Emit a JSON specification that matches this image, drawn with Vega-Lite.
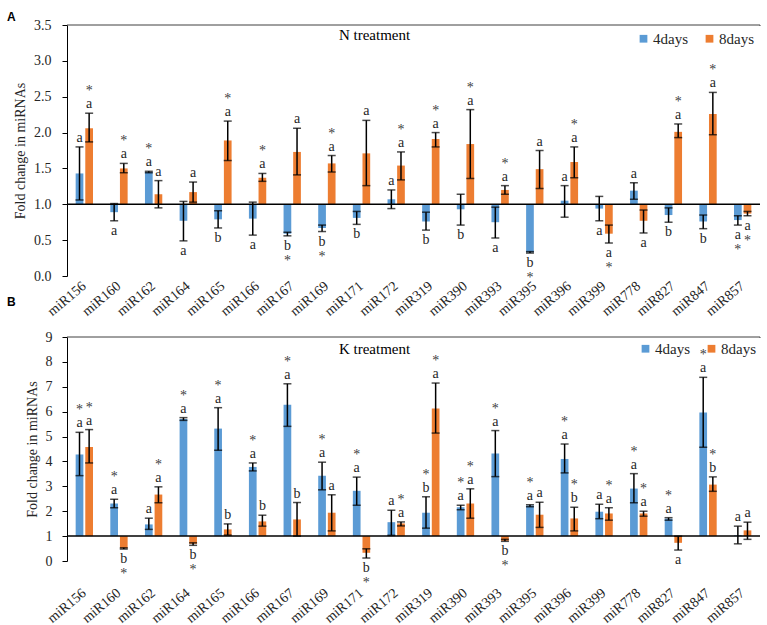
{
  "$schema": "https://vega.github.io/schema/vega-lite/v6.json",
  "padding": {"left": 7, "top": 11, "right": 0, "bottom": 0},
  "background": "white",
  "config": {
    "view": {"stroke": null},
    "font": "Liberation Serif, Times New Roman, serif",
    "axis": {"labelFont": "Liberation Serif, Times New Roman, serif", "titleFont": "Liberation Serif, Times New Roman, serif", "labelColor": "#262626", "titleColor": "#262626", "grid": false},
    "legend": {"labelFont": "Liberation Serif, Times New Roman, serif"},
    "text": {"font": "Liberation Serif, Times New Roman, serif"}
  },
  "bounds": "flush",
  "spacing": 61,
  "resolve": {"scale": {"y": "independent", "color": "independent"}, "legend": {"color": "independent"}},
  "datasets": {
    "N": [
      {"mirna": "miR156", "day": "4days", "value": 1.43, "lo": 1.06, "hi": 1.80, "letter": "a", "sig": ""},
      {"mirna": "miR156", "day": "8days", "value": 2.06, "lo": 1.87, "hi": 2.27, "letter": "a", "sig": "*"},
      {"mirna": "miR160", "day": "4days", "value": 0.89, "lo": 0.77, "hi": 1.01, "letter": "a", "sig": ""},
      {"mirna": "miR160", "day": "8days", "value": 1.50, "lo": 1.44, "hi": 1.57, "letter": "a", "sig": "*"},
      {"mirna": "miR162", "day": "4days", "value": 1.45, "lo": 1.44, "hi": 1.46, "letter": "a", "sig": "*"},
      {"mirna": "miR162", "day": "8days", "value": 1.14, "lo": 0.95, "hi": 1.33, "letter": "a", "sig": ""},
      {"mirna": "miR164", "day": "4days", "value": 0.77, "lo": 0.49, "hi": 1.04, "letter": "a", "sig": ""},
      {"mirna": "miR164", "day": "8days", "value": 1.17, "lo": 1.03, "hi": 1.31, "letter": "a", "sig": ""},
      {"mirna": "miR165", "day": "4days", "value": 0.79, "lo": 0.67, "hi": 0.91, "letter": "b", "sig": ""},
      {"mirna": "miR165", "day": "8days", "value": 1.89, "lo": 1.61, "hi": 2.16, "letter": "a", "sig": "*"},
      {"mirna": "miR166", "day": "4days", "value": 0.80, "lo": 0.57, "hi": 1.03, "letter": "a", "sig": ""},
      {"mirna": "miR166", "day": "8days", "value": 1.37, "lo": 1.32, "hi": 1.43, "letter": "a", "sig": "*"},
      {"mirna": "miR167", "day": "4days", "value": 0.59, "lo": 0.56, "hi": 0.61, "letter": "b", "sig": "*"},
      {"mirna": "miR167", "day": "8days", "value": 1.73, "lo": 1.41, "hi": 2.06, "letter": "a", "sig": ""},
      {"mirna": "miR169", "day": "4days", "value": 0.67, "lo": 0.62, "hi": 0.71, "letter": "b", "sig": "*"},
      {"mirna": "miR169", "day": "8days", "value": 1.57, "lo": 1.45, "hi": 1.68, "letter": "a", "sig": "*"},
      {"mirna": "miR171", "day": "4days", "value": 0.81, "lo": 0.72, "hi": 0.90, "letter": "b", "sig": ""},
      {"mirna": "miR171", "day": "8days", "value": 1.71, "lo": 1.26, "hi": 2.17, "letter": "a", "sig": ""},
      {"mirna": "miR172", "day": "4days", "value": 1.07, "lo": 0.94, "hi": 1.20, "letter": "a", "sig": ""},
      {"mirna": "miR172", "day": "8days", "value": 1.54, "lo": 1.34, "hi": 1.73, "letter": "a", "sig": "*"},
      {"mirna": "miR319", "day": "4days", "value": 0.76, "lo": 0.64, "hi": 0.89, "letter": "b", "sig": ""},
      {"mirna": "miR319", "day": "8days", "value": 1.91, "lo": 1.80, "hi": 2.00, "letter": "a", "sig": "*"},
      {"mirna": "miR390", "day": "4days", "value": 0.93, "lo": 0.71, "hi": 1.14, "letter": "b", "sig": ""},
      {"mirna": "miR390", "day": "8days", "value": 1.84, "lo": 1.36, "hi": 2.32, "letter": "a", "sig": "*"},
      {"mirna": "miR393", "day": "4days", "value": 0.75, "lo": 0.53, "hi": 0.96, "letter": "a", "sig": ""},
      {"mirna": "miR393", "day": "8days", "value": 1.20, "lo": 1.14, "hi": 1.26, "letter": "a", "sig": "*"},
      {"mirna": "miR395", "day": "4days", "value": 0.33, "lo": 0.32, "hi": 0.34, "letter": "b", "sig": "*"},
      {"mirna": "miR395", "day": "8days", "value": 1.49, "lo": 1.22, "hi": 1.75, "letter": "a", "sig": ""},
      {"mirna": "miR396", "day": "4days", "value": 1.05, "lo": 0.82, "hi": 1.26, "letter": "a", "sig": ""},
      {"mirna": "miR396", "day": "8days", "value": 1.59, "lo": 1.37, "hi": 1.80, "letter": "a", "sig": "*"},
      {"mirna": "miR399", "day": "4days", "value": 0.94, "lo": 0.77, "hi": 1.11, "letter": "a", "sig": ""},
      {"mirna": "miR399", "day": "8days", "value": 0.59, "lo": 0.46, "hi": 0.71, "letter": "a", "sig": "*"},
      {"mirna": "miR778", "day": "4days", "value": 1.19, "lo": 1.07, "hi": 1.30, "letter": "a", "sig": ""},
      {"mirna": "miR778", "day": "8days", "value": 0.77, "lo": 0.60, "hi": 0.92, "letter": "a", "sig": ""},
      {"mirna": "miR827", "day": "4days", "value": 0.85, "lo": 0.75, "hi": 0.95, "letter": "b", "sig": ""},
      {"mirna": "miR827", "day": "8days", "value": 2.01, "lo": 1.93, "hi": 2.12, "letter": "a", "sig": "*"},
      {"mirna": "miR847", "day": "4days", "value": 0.76, "lo": 0.66, "hi": 0.85, "letter": "b", "sig": ""},
      {"mirna": "miR847", "day": "8days", "value": 2.26, "lo": 1.97, "hi": 2.56, "letter": "a", "sig": "*"},
      {"mirna": "miR857", "day": "4days", "value": 0.78, "lo": 0.71, "hi": 0.84, "letter": "a", "sig": "*"},
      {"mirna": "miR857", "day": "8days", "value": 0.87, "lo": 0.84, "hi": 0.90, "letter": "a", "sig": "*"}
    ],
    "K": [
      {"mirna": "miR156", "day": "4days", "value": 4.28, "lo": 3.43, "hi": 5.17, "letter": "a", "sig": "*"},
      {"mirna": "miR156", "day": "8days", "value": 4.58, "lo": 3.94, "hi": 5.28, "letter": "a", "sig": "*"},
      {"mirna": "miR160", "day": "4days", "value": 2.31, "lo": 2.14, "hi": 2.48, "letter": "a", "sig": "*"},
      {"mirna": "miR160", "day": "8days", "value": 0.51, "lo": 0.48, "hi": 0.53, "letter": "b", "sig": "*"},
      {"mirna": "miR162", "day": "4days", "value": 1.47, "lo": 1.27, "hi": 1.72, "letter": "a", "sig": ""},
      {"mirna": "miR162", "day": "8days", "value": 2.67, "lo": 2.34, "hi": 2.98, "letter": "a", "sig": "*"},
      {"mirna": "miR164", "day": "4days", "value": 5.71, "lo": 5.65, "hi": 5.76, "letter": "a", "sig": "*"},
      {"mirna": "miR164", "day": "8days", "value": 0.69, "lo": 0.63, "hi": 0.73, "letter": "b", "sig": "*"},
      {"mirna": "miR165", "day": "4days", "value": 5.32, "lo": 4.45, "hi": 6.16, "letter": "a", "sig": "*"},
      {"mirna": "miR165", "day": "8days", "value": 1.27, "lo": 1.04, "hi": 1.49, "letter": "b", "sig": ""},
      {"mirna": "miR166", "day": "4days", "value": 3.78, "lo": 3.62, "hi": 3.94, "letter": "a", "sig": "*"},
      {"mirna": "miR166", "day": "8days", "value": 1.59, "lo": 1.40, "hi": 1.84, "letter": "b", "sig": ""},
      {"mirna": "miR167", "day": "4days", "value": 6.28, "lo": 5.41, "hi": 7.12, "letter": "a", "sig": "*"},
      {"mirna": "miR167", "day": "8days", "value": 1.67, "lo": 1.00, "hi": 2.35, "letter": "b", "sig": ""},
      {"mirna": "miR169", "day": "4days", "value": 3.43, "lo": 2.86, "hi": 3.97, "letter": "a", "sig": "*"},
      {"mirna": "miR169", "day": "8days", "value": 1.94, "lo": 1.21, "hi": 2.66, "letter": "a", "sig": ""},
      {"mirna": "miR171", "day": "4days", "value": 2.82, "lo": 2.24, "hi": 3.37, "letter": "a", "sig": "*"},
      {"mirna": "miR171", "day": "8days", "value": 0.33, "lo": 0.12, "hi": 0.49, "letter": "b", "sig": "*"},
      {"mirna": "miR172", "day": "4days", "value": 1.56, "lo": 1.03, "hi": 2.04, "letter": "a", "sig": ""},
      {"mirna": "miR172", "day": "8days", "value": 1.51, "lo": 1.41, "hi": 1.57, "letter": "a", "sig": "*"},
      {"mirna": "miR319", "day": "4days", "value": 1.94, "lo": 1.32, "hi": 2.58, "letter": "b", "sig": "*"},
      {"mirna": "miR319", "day": "8days", "value": 6.13, "lo": 5.14, "hi": 7.15, "letter": "a", "sig": "*"},
      {"mirna": "miR390", "day": "4days", "value": 2.16, "lo": 2.06, "hi": 2.24, "letter": "a", "sig": "*"},
      {"mirna": "miR390", "day": "8days", "value": 2.31, "lo": 1.72, "hi": 2.90, "letter": "a", "sig": "*"},
      {"mirna": "miR393", "day": "4days", "value": 4.32, "lo": 3.39, "hi": 5.24, "letter": "a", "sig": "*"},
      {"mirna": "miR393", "day": "8days", "value": 0.81, "lo": 0.79, "hi": 0.87, "letter": "b", "sig": "*"},
      {"mirna": "miR395", "day": "4days", "value": 2.23, "lo": 2.18, "hi": 2.26, "letter": "a", "sig": "*"},
      {"mirna": "miR395", "day": "8days", "value": 1.86, "lo": 1.35, "hi": 2.36, "letter": "a", "sig": ""},
      {"mirna": "miR396", "day": "4days", "value": 4.10, "lo": 3.54, "hi": 4.70, "letter": "a", "sig": "*"},
      {"mirna": "miR396", "day": "8days", "value": 1.71, "lo": 1.21, "hi": 2.16, "letter": "b", "sig": "*"},
      {"mirna": "miR399", "day": "4days", "value": 1.98, "lo": 1.70, "hi": 2.28, "letter": "a", "sig": ""},
      {"mirna": "miR399", "day": "8days", "value": 1.91, "lo": 1.64, "hi": 2.14, "letter": "a", "sig": "*"},
      {"mirna": "miR778", "day": "4days", "value": 2.91, "lo": 2.34, "hi": 3.51, "letter": "a", "sig": "*"},
      {"mirna": "miR778", "day": "8days", "value": 1.91, "lo": 1.80, "hi": 2.00, "letter": "a", "sig": "*"},
      {"mirna": "miR827", "day": "4days", "value": 1.70, "lo": 1.64, "hi": 1.74, "letter": "a", "sig": "*"},
      {"mirna": "miR827", "day": "8days", "value": 0.73, "lo": 0.44, "hi": 1.00, "letter": "a", "sig": ""},
      {"mirna": "miR847", "day": "4days", "value": 5.97, "lo": 4.57, "hi": 7.38, "letter": "a", "sig": "*"},
      {"mirna": "miR847", "day": "8days", "value": 3.07, "lo": 2.80, "hi": 3.38, "letter": "b", "sig": "*"},
      {"mirna": "miR857", "day": "4days", "value": 1.03, "lo": 0.69, "hi": 1.40, "letter": "a", "sig": ""},
      {"mirna": "miR857", "day": "8days", "value": 1.23, "lo": 0.87, "hi": 1.56, "letter": "a", "sig": ""}
    ]
  },
  "vconcat": [
    {
      "width": 693,
      "height": 251,
      "title": {"text": "A", "anchor": "start", "frame": "group", "dx": -60, "offset": -6, "font": "Liberation Sans, Arial, sans-serif", "fontWeight": "bold", "fontSize": 12, "color": "black"},
      "data": {"name": "N"},
      "resolve": {"axis": {"y": "independent"}},
      "encoding": {
        "x": {"field": "mirna", "type": "nominal", "sort": null, "title": null,
              "scale": {"paddingInner": 0.5, "paddingOuter": 0.25},
              "axis": {"labelAngle": -40, "labelAlign": "right", "labelBaseline": "middle", "labelPadding": 8, "labelFontSize": 14, "labelFont": "Liberation Serif, Times New Roman, serif", "domain": false, "ticks": false}}
      },
      "layer": [
        {
          "mark": {"type": "bar"},
          "encoding": {
            "xOffset": {"field": "day", "type": "nominal", "scale": {"paddingInner": 0.2}},
            "y": {"field": "value", "type": "quantitative", "scale": {"domain": [0, 3.5], "nice": false},
                  "axis": {"orient": "left", "title": "Fold change in miRNAs", "titleFont": "Liberation Serif, Times New Roman, serif", "labelFont": "Liberation Serif, Times New Roman, serif", "titleFontSize": 14, "titleFontWeight": "normal", "titlePadding": 6, "values": [0, 0.5, 1, 1.5, 2, 2.5, 3, 3.5], "format": ".1f", "labelFontSize": 14, "labelPadding": 11, "labelOverlap": false, "tickSize": 5, "tickColor": "black", "domainColor": "black"}},
            "y2": {"datum": 1},
            "color": {"field": "day", "type": "nominal", "scale": {"domain": ["4days", "8days"], "range": ["#5B9BD5", "#ED7D31"]},
                      "legend": {"title": null, "orient": "top-right", "direction": "horizontal", "symbolType": "square", "symbolSize": 60, "symbolStrokeWidth": 0, "labelFont": "Liberation Serif, Times New Roman, serif", "labelFontSize": 15, "labelColor": "#262626", "labelOffset": 2, "columnPadding": 14, "offset": 6}}
          }
        },
        {
          "mark": {"type": "rule", "color": "black", "strokeWidth": 1.5},
          "encoding": {"xOffset": {"field": "day", "type": "nominal"}, "y": {"field": "lo", "type": "quantitative", "axis": null}, "y2": {"field": "hi"}}
        },
        {
          "mark": {"type": "tick", "color": "black", "thickness": 1.5, "size": 8},
          "encoding": {"xOffset": {"field": "day", "type": "nominal"}, "y": {"field": "lo", "type": "quantitative", "axis": null}}
        },
        {
          "mark": {"type": "tick", "color": "black", "thickness": 1.5, "size": 8},
          "encoding": {"xOffset": {"field": "day", "type": "nominal"}, "y": {"field": "hi", "type": "quantitative", "axis": null}}
        },
        {
          "transform": [{"filter": "datum.value >= 1"}],
          "mark": {"type": "text", "baseline": "bottom", "dy": -2, "fontSize": 14, "color": "#262626", "font": "Liberation Serif, Times New Roman, serif"},
          "encoding": {"xOffset": {"field": "day", "type": "nominal"}, "y": {"field": "hi", "type": "quantitative", "axis": null}, "text": {"field": "letter"}}
        },
        {
          "transform": [{"filter": "datum.value >= 1"}],
          "mark": {"type": "text", "baseline": "bottom", "dy": -15, "fontSize": 14, "color": "#404040", "font": "Liberation Serif, Times New Roman, serif"},
          "encoding": {"xOffset": {"field": "day", "type": "nominal"}, "y": {"field": "hi", "type": "quantitative", "axis": null}, "text": {"field": "sig"}}
        },
        {
          "transform": [{"filter": "datum.value < 1"}],
          "mark": {"type": "text", "baseline": "top", "dy": 3, "fontSize": 14, "color": "#262626", "font": "Liberation Serif, Times New Roman, serif"},
          "encoding": {"xOffset": {"field": "day", "type": "nominal"}, "y": {"field": "lo", "type": "quantitative", "axis": null}, "text": {"field": "letter"}}
        },
        {
          "transform": [{"filter": "datum.value < 1"}],
          "mark": {"type": "text", "baseline": "top", "dy": 18, "fontSize": 14, "color": "#404040", "font": "Liberation Serif, Times New Roman, serif"},
          "encoding": {"xOffset": {"field": "day", "type": "nominal"}, "y": {"field": "lo", "type": "quantitative", "axis": null}, "text": {"field": "sig"}}
        },
        {
          "data": {"values": [{}]},
          "mark": {"type": "rule", "color": "black", "strokeWidth": 1.5, "clip": false},
          "encoding": {"x": {"value": 0}, "x2": {"value": "width"}, "y": {"datum": 1, "axis": null}}
        },
        {
          "data": {"values": [{}]},
          "mark": {"type": "rule", "color": "#404040", "strokeWidth": 1, "clip": false},
          "encoding": {"x": {"value": 0}, "x2": {"value": "width"}, "y": {"value": 0}}
        },
        {
          "data": {"values": [{}]},
          "mark": {"type": "rule", "color": "#404040", "strokeWidth": 1, "clip": false},
          "encoding": {"x": {"value": "width"}, "y": {"value": 0}, "y2": {"datum": 1}}
        },
        {
          "data": {"values": [{"t": "N  treatment"}]},
          "mark": {"type": "text", "fontSize": 15, "color": "black", "dx": 13, "font": "Liberation Serif, Times New Roman, serif"},
          "encoding": {"x": {"datum": "miR171"}, "y": {"datum": 3.36, "axis": null}, "text": {"field": "t"}}
        }
      ]
    },
    {
      "width": 693,
      "height": 224,
      "title": {"text": "B", "anchor": "start", "frame": "group", "dx": -60, "offset": 21, "font": "Liberation Sans, Arial, sans-serif", "fontWeight": "bold", "fontSize": 12, "color": "black"},
      "data": {"name": "K"},
      "resolve": {"axis": {"y": "independent"}},
      "encoding": {
        "x": {"field": "mirna", "type": "nominal", "sort": null, "title": null,
              "scale": {"paddingInner": 0.5, "paddingOuter": 0.25},
              "axis": {"labelAngle": -40, "labelAlign": "right", "labelBaseline": "middle", "labelPadding": 30, "labelFontSize": 14, "labelFont": "Liberation Serif, Times New Roman, serif", "domain": false, "ticks": false}}
      },
      "layer": [
        {
          "mark": {"type": "bar"},
          "encoding": {
            "xOffset": {"field": "day", "type": "nominal", "scale": {"paddingInner": 0.2}},
            "y": {"field": "value", "type": "quantitative", "scale": {"domain": [0, 9], "nice": false},
                  "axis": {"orient": "left", "title": "Fold change in miRNAs", "titleFont": "Liberation Serif, Times New Roman, serif", "labelFont": "Liberation Serif, Times New Roman, serif", "titleFontSize": 14, "titleFontWeight": "normal", "titlePadding": 6, "values": [0, 1, 2, 3, 4, 5, 6, 7, 8, 9], "format": "d", "labelFontSize": 14, "labelPadding": 10, "labelOverlap": false, "tickSize": 5, "tickColor": "black", "domainColor": "black"}},
            "y2": {"datum": 1},
            "color": {"field": "day", "type": "nominal", "scale": {"domain": ["4days", "8days"], "range": ["#5B9BD5", "#ED7D31"]},
                      "legend": {"title": null, "orient": "top-right", "direction": "horizontal", "symbolType": "square", "symbolSize": 60, "symbolStrokeWidth": 0, "labelFont": "Liberation Serif, Times New Roman, serif", "labelFontSize": 15, "labelColor": "#262626", "labelOffset": 2, "columnPadding": 14, "offset": 4}}
          }
        },
        {
          "mark": {"type": "rule", "color": "black", "strokeWidth": 1.5},
          "encoding": {"xOffset": {"field": "day", "type": "nominal"}, "y": {"field": "lo", "type": "quantitative", "axis": null}, "y2": {"field": "hi"}}
        },
        {
          "mark": {"type": "tick", "color": "black", "thickness": 1.5, "size": 8},
          "encoding": {"xOffset": {"field": "day", "type": "nominal"}, "y": {"field": "lo", "type": "quantitative", "axis": null}}
        },
        {
          "mark": {"type": "tick", "color": "black", "thickness": 1.5, "size": 8},
          "encoding": {"xOffset": {"field": "day", "type": "nominal"}, "y": {"field": "hi", "type": "quantitative", "axis": null}}
        },
        {
          "transform": [{"filter": "datum.value >= 1"}],
          "mark": {"type": "text", "baseline": "bottom", "dy": -2, "fontSize": 14, "color": "#262626", "font": "Liberation Serif, Times New Roman, serif"},
          "encoding": {"xOffset": {"field": "day", "type": "nominal"}, "y": {"field": "hi", "type": "quantitative", "axis": null}, "text": {"field": "letter"}}
        },
        {
          "transform": [{"filter": "datum.value >= 1"}],
          "mark": {"type": "text", "baseline": "bottom", "dy": -15, "fontSize": 14, "color": "#404040", "font": "Liberation Serif, Times New Roman, serif"},
          "encoding": {"xOffset": {"field": "day", "type": "nominal"}, "y": {"field": "hi", "type": "quantitative", "axis": null}, "text": {"field": "sig"}}
        },
        {
          "transform": [{"filter": "datum.value < 1"}],
          "mark": {"type": "text", "baseline": "top", "dy": 3, "fontSize": 14, "color": "#262626", "font": "Liberation Serif, Times New Roman, serif"},
          "encoding": {"xOffset": {"field": "day", "type": "nominal"}, "y": {"field": "lo", "type": "quantitative", "axis": null}, "text": {"field": "letter"}}
        },
        {
          "transform": [{"filter": "datum.value < 1"}],
          "mark": {"type": "text", "baseline": "top", "dy": 18, "fontSize": 14, "color": "#404040", "font": "Liberation Serif, Times New Roman, serif"},
          "encoding": {"xOffset": {"field": "day", "type": "nominal"}, "y": {"field": "lo", "type": "quantitative", "axis": null}, "text": {"field": "sig"}}
        },
        {
          "data": {"values": [{}]},
          "mark": {"type": "rule", "color": "black", "strokeWidth": 1.5, "clip": false},
          "encoding": {"x": {"value": 0}, "x2": {"value": "width"}, "y": {"datum": 1, "axis": null}}
        },
        {
          "data": {"values": [{}]},
          "mark": {"type": "rule", "color": "#404040", "strokeWidth": 1, "clip": false},
          "encoding": {"x": {"value": 0}, "x2": {"value": "width"}, "y": {"value": 0}}
        },
        {
          "data": {"values": [{}]},
          "mark": {"type": "rule", "color": "#404040", "strokeWidth": 1, "clip": false},
          "encoding": {"x": {"value": "width"}, "y": {"value": 0}, "y2": {"datum": 1}}
        },
        {
          "data": {"values": [{"t": "K treatment"}]},
          "mark": {"type": "text", "fontSize": 15, "color": "black", "dx": 13, "font": "Liberation Serif, Times New Roman, serif"},
          "encoding": {"x": {"datum": "miR171"}, "y": {"datum": 8.5, "axis": null}, "text": {"field": "t"}}
        }
      ]
    }
  ]
}
